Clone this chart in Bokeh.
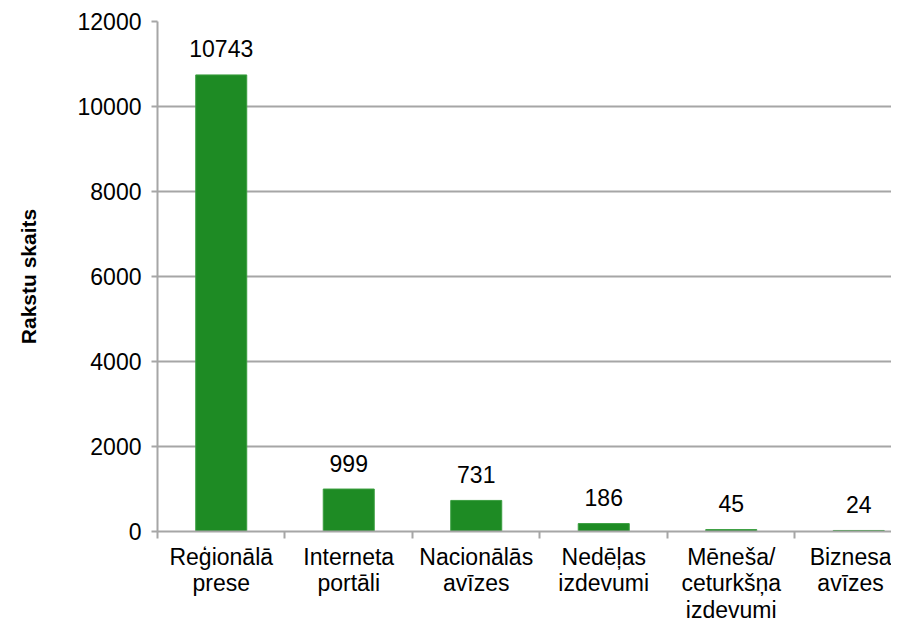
from bokeh.plotting import figure
from bokeh.models import Range1d, FixedTicker, ColumnDataSource
from bokeh.embed import file_html
from bokeh.resources import INLINE
from bokeh.core.properties import value

categories = ["Reģionālā\nprese", "Interneta\nportāli", "Nacionālās\navīzes",
              "Nedēļas\nizdevumi", "Mēneša/\nceturkšņa\nizdevumi", "Biznesa\navīzes"]
values = [10743, 999, 731, 186, 45, 24]
y_ticks = [0, 2000, 4000, 6000, 8000, 10000, 12000]
y_title = "Rakstu skaits"

FONT = "Liberation Sans"
BAR = "#1E8B24"
GREY = "#a6a6a6"

n = len(categories)
xs = [i + 0.5 for i in range(n)]
src = ColumnDataSource(dict(x=xs, top=values, label=[str(v) for v in values]))

p = figure(width=891, height=625, output_backend="svg", toolbar_location=None,
           x_range=Range1d(0, 5.757), y_range=Range1d(0, 12000),
           min_border_left=157, min_border_right=0, min_border_top=21,
           min_border_bottom=79)
p.outline_line_color = None

p.vbar(x="x", top="top", width=0.4, bottom=0, source=src,
       fill_color=BAR, line_color="#3a9e3f", line_width=1)
p.text(x="x", y="top", text="label", source=src, text_align="center",
       text_baseline="alphabetic", y_offset=-26, text_font=value(FONT),
       text_font_size="23px", text_color="black")

xa = p.xaxis[0]
xa.ticker = FixedTicker(ticks=xs, minor_ticks=list(range(n + 1)))
xa.major_label_overrides = {x: c for x, c in zip(xs, categories)}
xa.major_tick_out = 0
xa.major_tick_in = 0
xa.minor_tick_out = 7
xa.minor_tick_in = 0
xa.minor_tick_line_color = GREY
xa.minor_tick_line_width = 2
xa.axis_line_color = GREY
xa.axis_line_width = 2
xa.major_label_text_font = FONT
xa.major_label_text_font_size = "23px"
xa.major_label_text_color = "black"
xa.major_label_text_line_height = 1.02
xa.major_label_standoff = 5

ya = p.yaxis[0]
ya.ticker = FixedTicker(ticks=y_ticks, minor_ticks=[])
ya.major_tick_out = 6
ya.major_tick_in = 0
ya.major_tick_line_color = GREY
ya.major_tick_line_width = 2
ya.axis_line_color = GREY
ya.axis_line_width = 2
ya.major_label_text_font = FONT
ya.major_label_text_font_size = "23px"
ya.major_label_text_color = "black"
ya.major_label_standoff = 10
ya.axis_label = y_title
ya.axis_label_text_font = FONT
ya.axis_label_text_font_style = "bold"
ya.axis_label_text_font_size = "21px"
ya.axis_label_text_color = "black"
ya.axis_label_standoff = 35

p.xgrid.grid_line_color = None
p.ygrid.grid_line_color = GREY
p.ygrid.grid_line_width = 2

open("out.html", "w").write(file_html(p, INLINE))
